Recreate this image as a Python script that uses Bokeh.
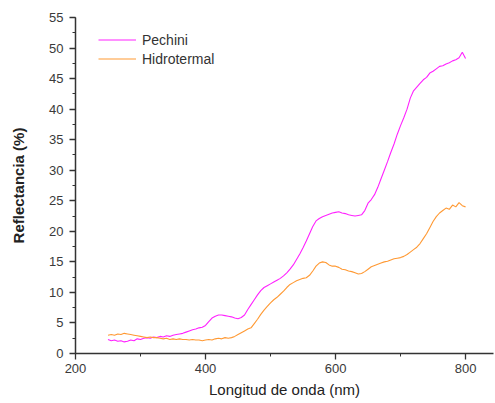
from bokeh.plotting import figure
from bokeh.models import FixedTicker, Range1d, Legend, LegendItem
from bokeh.embed import file_html
from bokeh.resources import INLINE

wavelength = list(range(250, 805, 5))
pechini = [2.3, 2.1, 2.2, 2.0, 2.1, 1.9, 2.0, 2.2, 2.1, 2.4,
           2.3, 2.5, 2.6, 2.5, 2.7, 2.6, 2.8, 2.7, 2.9, 2.8,
           3.0, 3.1, 3.2, 3.3, 3.5, 3.7, 3.9, 4.0, 4.2, 4.3,
           4.6, 5.2, 5.8, 6.1, 6.3, 6.3, 6.2, 6.1, 6.0, 5.8,
           5.7, 5.9, 6.3, 7.2, 8.0, 8.8, 9.6, 10.3, 10.8, 11.1,
           11.4, 11.7, 12.0, 12.3, 12.7, 13.2, 13.8, 14.5, 15.4, 16.3,
           17.3, 18.4, 19.6, 20.8, 21.7, 22.1, 22.4, 22.6, 22.8, 23.0,
           23.1, 23.2, 23.0, 22.9, 22.7, 22.6, 22.5, 22.6, 22.7, 23.4,
           24.6, 25.2, 26.0, 27.2, 28.6, 30.0, 31.4, 32.9, 34.3, 35.9,
           37.3, 38.6, 40.0, 41.8, 43.0, 43.6, 44.2, 44.8, 45.2, 45.9,
           46.2, 46.6, 47.0, 47.1, 47.4, 47.6, 47.9, 48.1, 48.4, 49.3,
           48.3]
hidrotermal = [3.0, 3.1, 3.0, 3.2, 3.1, 3.3, 3.2, 3.1, 3.0, 2.9,
               2.8, 2.7, 2.6, 2.7, 2.6, 2.6, 2.5, 2.4, 2.5, 2.3,
               2.4, 2.3, 2.4, 2.3, 2.3, 2.2, 2.3, 2.2, 2.2, 2.1,
               2.2, 2.3, 2.2, 2.4, 2.5, 2.4, 2.6, 2.5, 2.6, 2.8,
               3.1, 3.4, 3.7, 4.0, 4.2, 4.9, 5.6, 6.4, 7.1, 7.7,
               8.3, 8.8, 9.2, 9.7, 10.2, 10.8, 11.3, 11.6, 11.9, 12.1,
               12.3, 12.4, 12.8, 13.5, 14.3, 14.8, 15.0, 14.9, 14.5, 14.3,
               14.3, 14.1, 13.8, 13.7, 13.5, 13.4, 13.2, 13.0, 13.1, 13.4,
               13.8, 14.2, 14.4, 14.6, 14.8, 15.0, 15.1, 15.3, 15.5, 15.6,
               15.7, 15.9, 16.2, 16.6, 17.0, 17.4, 18.0, 18.8, 19.6, 20.6,
               21.6, 22.4, 23.0, 23.4, 23.8, 23.6, 24.3, 24.0, 24.7, 24.2,
               24.0]

x_ticks = [200, 400, 600, 800]
x_minor = [300, 500, 700]
y_ticks = list(range(0, 60, 5))
y_minor = [i * 2.5 for i in range(0, 23)]

FONT = "Liberation Sans"

p = figure(width=495, height=403, output_backend="svg", toolbar_location=None,
           x_range=Range1d(200, 843), y_range=Range1d(0, 55),
           min_border_left=75, min_border_right=2, min_border_top=17,
           min_border_bottom=50)
p.outline_line_color = None
p.grid.visible = False
p.background_fill_color = "white"

r1 = p.line(wavelength, pechini, line_color="#FF22FF", line_width=1.1)
r2 = p.line(wavelength, hidrotermal, line_color="#FF9933", line_width=1.1)

for ax in (p.xaxis[0], p.yaxis[0]):
    ax.axis_line_color = "#333333"
    ax.axis_line_width = 1.5
    ax.major_tick_line_color = "#333333"
    ax.minor_tick_line_color = "#333333"
    ax.major_tick_line_width = 1.3
    ax.minor_tick_line_width = 1.0
    ax.major_tick_in = 0
    ax.major_tick_out = 6
    ax.minor_tick_in = 0
    ax.minor_tick_out = 3
    ax.major_label_text_font = FONT
    ax.major_label_text_font_size = "13px"
    ax.major_label_text_color = "#3a3a3a"
    ax.axis_label_text_font = FONT
    ax.axis_label_text_color = "#222222"

p.xaxis[0].ticker = FixedTicker(ticks=x_ticks, minor_ticks=x_minor)
p.yaxis[0].ticker = FixedTicker(ticks=y_ticks, minor_ticks=y_minor)
p.xaxis[0].axis_label = "Longitud de onda (nm)"
p.yaxis[0].axis_label = "Reflectancia (%)"
p.xaxis[0].axis_label_text_font_size = "15px"
p.xaxis[0].axis_label_text_font_style = "normal"
p.yaxis[0].axis_label_text_font_size = "15px"
p.yaxis[0].axis_label_text_font_style = "bold"
p.xaxis[0].major_label_standoff = 4
p.yaxis[0].major_label_standoff = 6
p.xaxis[0].axis_label_standoff = 5
p.yaxis[0].axis_label_standoff = 19

legend = Legend(items=[LegendItem(label="Pechini", renderers=[r1]),
                       LegendItem(label="Hidrotermal", renderers=[r2])],
                location=(23, 286))
legend.border_line_color = None
legend.background_fill_alpha = 0
legend.padding = 0
legend.margin = 0
legend.spacing = 2
legend.glyph_width = 38
legend.glyph_height = 17
legend.label_height = 17
legend.label_standoff = 6
legend.label_text_font = FONT
legend.label_text_font_size = "14px"
legend.label_text_color = "#333333"
p.add_layout(legend, "center")

open("out.html", "w").write(file_html(p, INLINE))
